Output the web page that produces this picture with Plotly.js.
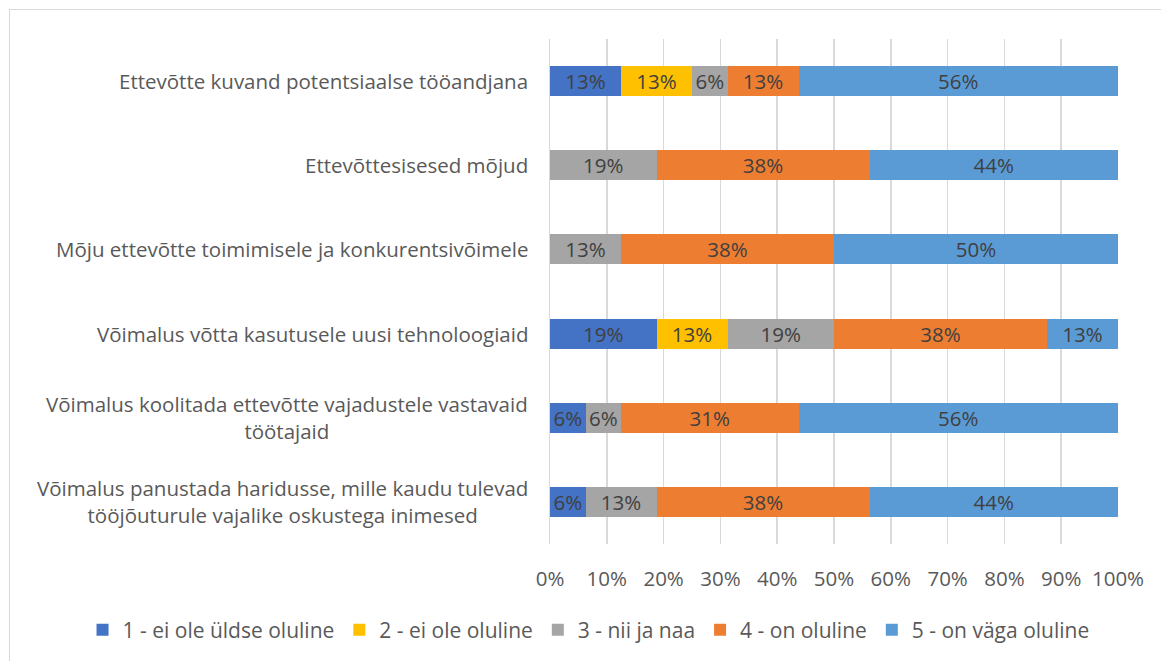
<!DOCTYPE html>
<html>
<head>
<meta charset="utf-8">
<script src="https://cdn.plot.ly/plotly-3.0.1.min.js"></script>
<style>
html,body{margin:0;padding:0;background:#fff;}
#chart{width:1161px;height:661px;position:absolute;left:0;top:0;}
#frame{position:absolute;left:9px;top:9px;width:1200px;height:700px;border:1.5px solid #d9d9d9;pointer-events:none;box-sizing:border-box;}
</style>
</head>
<body>
<div id="chart"></div>
<div id="frame"></div>
<script>
const categories = [
  "Ettevõtte kuvand potentsiaalse tööandjana",
  "Ettevõttesisesed mõjud",
  "Mõju ettevõtte toimimisele ja konkurentsivõimele",
  "Võimalus võtta kasutusele uusi tehnoloogiaid",
  "Võimalus koolitada ettevõtte vajadustele vastavaid<br>töötajaid",
  "Võimalus panustada haridusse, mille kaudu tulevad<br>tööjõuturule vajalike oskustega inimesed"
];
const seriesNames = ["1 - ei ole üldse oluline","2 - ei ole oluline","3 - nii ja naa","4 - on oluline","5 - on väga oluline"];
const s1 = [12.5, 0, 0, 18.75, 6.25, 6.25];
const s2 = [12.5, 0, 0, 12.5, 0, 0];
const s3 = [6.25, 18.75, 12.5, 18.75, 6.25, 12.5];
const s4 = [12.5, 37.5, 37.5, 37.5, 31.25, 37.5];
const s5 = [56.25, 43.75, 50, 12.5, 56.25, 43.75];
const xTicks = [0,10,20,30,40,50,60,70,80,90,100];
const colors = ["#4472C4","#FFC000","#A5A5A5","#ED7D31","#5B9BD5"];
const FONT = "'Open Sans', sans-serif";
const FS = 20.5;

const allSeries = [s1,s2,s3,s4,s5];
const traces = allSeries.map((vals,i)=>({
  type:'bar', orientation:'h', name:seriesNames[i],
  y:categories, x:vals,
  marker:{color:colors[i], line:{width:0}},
  text: vals.map(v=> v>0 ? Math.round(v)+'%' : ''),
  textposition:'inside', insidetextanchor:'middle',
  textfont:{family:FONT, size:FS, color:'#404040'},
  constraintext:'none',
  hoverinfo:'none'
}));

const annotations = categories.map(c=>({
  xref:'paper', yref:'y', x:0, y:c, xanchor:'right', yanchor:'middle',
  xshift:-20, text:c, showarrow:false, align:'center',
  font:{family:FONT, size:FS, color:'#595959'}
}));

const layout = {
  width:1161, height:661,
  margin:{l:550, r:43, t:39, b:116, pad:0},
  paper_bgcolor:'#fff', plot_bgcolor:'#fff',
  barmode:'stack', bargap:0.645,
  font:{family:FONT, size:FS, color:'#595959'},
  showlegend:true,
  legend:{orientation:'h', x:-0.823, xanchor:'left', y:-0.168, yanchor:'middle',
          font:{family:FONT, size:21, color:'#595959'}, traceorder:'normal', itemwidth:30, tracegroupgap:0},
  xaxis:{range:[0,100], tickvals:xTicks, ticktext:xTicks.map(t=>t+'%'),
         showgrid:true, gridcolor:'#d9d9d9', gridwidth:1.5,
         zeroline:false, showline:false, ticks:'outside', ticklen:16, tickcolor:'rgba(0,0,0,0)',
         tickfont:{family:FONT, size:FS, color:'#595959'}, fixedrange:true},
  yaxis:{autorange:'reversed', showticklabels:false, showgrid:false, zeroline:false,
         showline:true, linecolor:'#d9d9d9', linewidth:1.5, ticks:'', fixedrange:true},
  annotations:annotations
};
Plotly.newPlot('chart', traces, layout, {displayModeBar:false, staticPlot:true});
</script>
</body>
</html>
